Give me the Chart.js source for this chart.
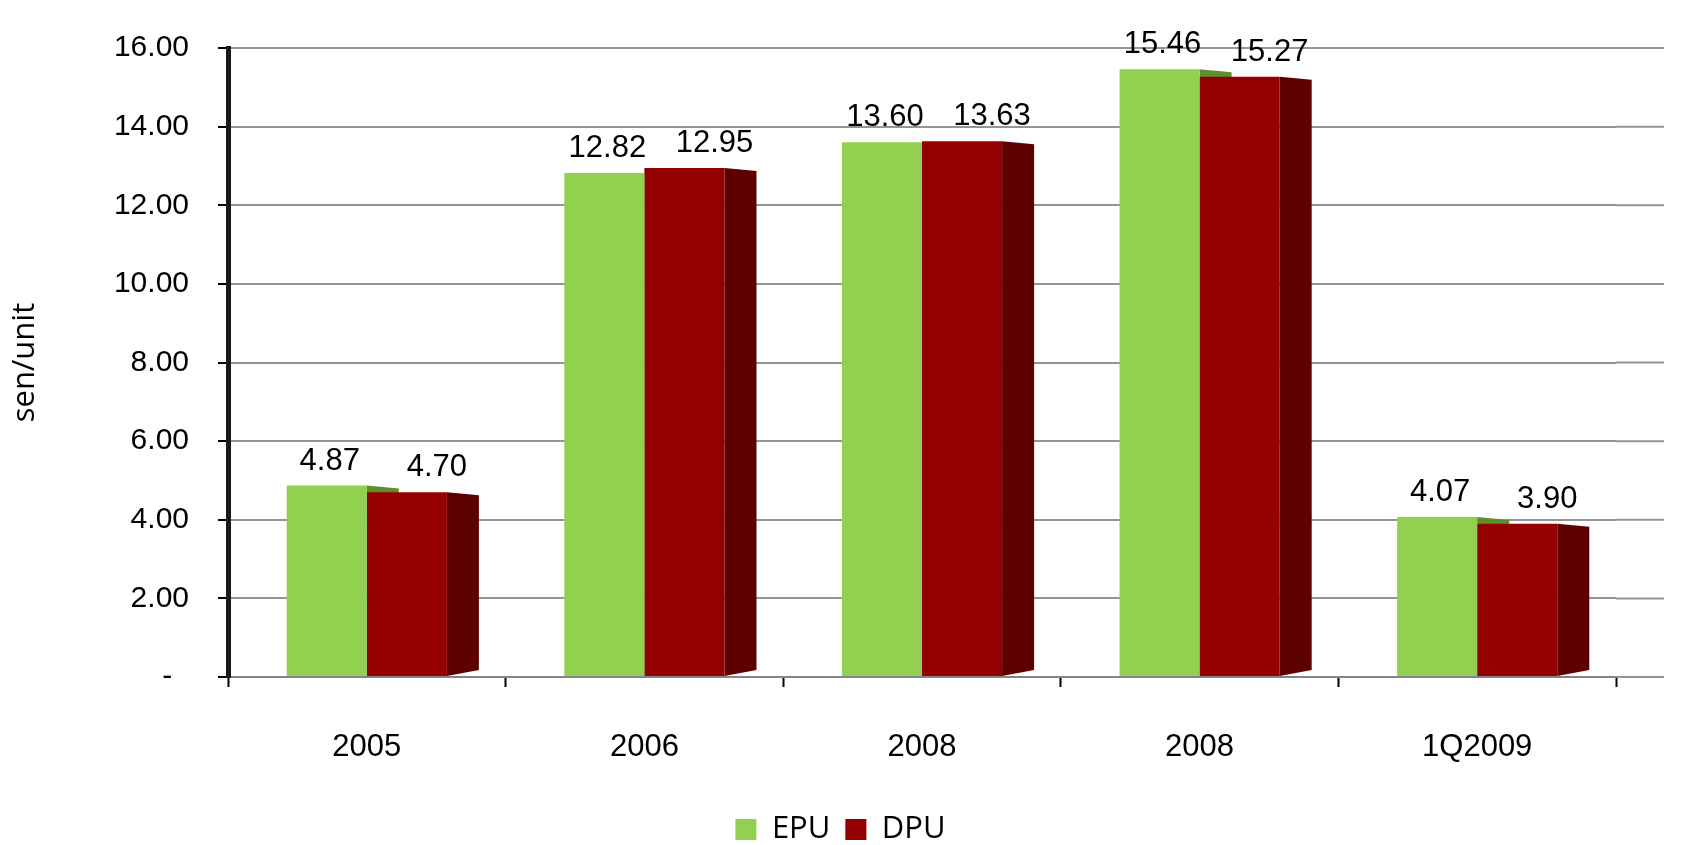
<!DOCTYPE html>
<html>
<head>
<meta charset="utf-8">
<title>EPU / DPU</title>
<script src="https://cdn.jsdelivr.net/npm/chart.js@4"></script>
<style>
  html, body { margin: 0; padding: 0; background: #fff; }
  #wrap { width: 1681px; height: 845px; }
</style>
</head>
<body>
<div id="wrap"><canvas id="unitChart"></canvas></div>
<script>
const periods = ['2005', '2006', '2008', '2008', '1Q2009'];
const epu = [4.87, 12.82, 13.60, 15.46, 4.07];
const dpu = [4.70, 12.95, 13.63, 15.27, 3.90];
const yTicks = [0, 2, 4, 6, 8, 10, 12, 14, 16];

const GREEN = '#92d050';
const RED = '#940000';
const sideColors = ['#5f8f2d', '#5c0000'];
const GRID = 'rgba(130,130,130,0.85)';
const DEPTH = 32;

// fake 3D: right-hand faces, longer grid lines and value labels
const boxSides = {
  id: 'boxSides',
  beforeDatasetsDraw(chart) {
    const ctx = chart.ctx;
    const area = chart.chartArea;
    const y = chart.scales.y;
    ctx.save();
    ctx.strokeStyle = GRID;
    ctx.lineWidth = 2;
    y.ticks.forEach(t => {
      const py = y.getPixelForValue(t.value);
      ctx.beginPath();
      ctx.moveTo(area.right, py);
      ctx.lineTo(area.right + 48, py);
      ctx.stroke();
    });
    sideColors.forEach((col, i) => {
      chart.getDatasetMeta(i).data.forEach(bar => {
        const r = bar.x + bar.width / 2;
        ctx.fillStyle = col;
        ctx.beginPath();
        ctx.moveTo(r, bar.y);
        ctx.lineTo(r + DEPTH, bar.y + 3);
        ctx.lineTo(r + DEPTH, bar.base - 6);
        ctx.lineTo(r, bar.base);
        ctx.closePath();
        ctx.fill();
      });
    });
    ctx.restore();
  },
  afterDatasetsDraw(chart) {
    const ctx = chart.ctx;
    ctx.save();
    ctx.font = '31px "Liberation Sans", Arial, sans-serif';
    ctx.fillStyle = '#000';
    ctx.textAlign = 'center';
    ctx.textBaseline = 'alphabetic';
    chart.data.datasets.forEach((ds, i) => {
      // DPU labels sit over the visible top of the box
      const dx = i === 1 ? DEPTH - 2 : 3;
      chart.getDatasetMeta(i).data.forEach((bar, j) => {
        ctx.fillText(ds.data[j].toFixed(2), bar.x + dx, bar.y - 16);
      });
    });
    ctx.restore();
  }
};

new Chart(document.getElementById('unitChart'), {
  type: 'bar',
  data: {
    labels: periods,
    datasets: [
      { label: 'EPU', data: epu, backgroundColor: GREEN },
      { label: 'DPU', data: dpu, backgroundColor: RED }
    ]
  },
  options: {
    responsive: true,
    maintainAspectRatio: false,
    animation: false,
    layout: { padding: { top: 48, right: 0, left: 0, bottom: -10 } },
    datasets: { bar: { categoryPercentage: 0.577, barPercentage: 1 } },
    plugins: {
      legend: {
        position: 'bottom',
        labels: {
          boxWidth: 21,
          boxHeight: 21,
          padding: 15,
          color: '#000',
          font: { family: '"Open Sans", sans-serif', size: 31 }
        }
      },
      tooltip: { enabled: false }
    },
    scales: {
      x: {
        afterFit: s => { s.height = 122; },
        grid: {
          drawOnChartArea: false,
          drawTicks: true,
          tickLength: 10,
          tickColor: '#000',
          tickWidth: 2
        },
        border: { color: GRID, width: 2 },
        ticks: {
          padding: 42,
          color: '#000',
          font: { family: '"Liberation Sans", Arial, sans-serif', size: 31 }
        }
      },
      y: {
        min: 0,
        max: 16,
        afterFit: s => { s.width = 228; },
        afterBuildTicks: s => { s.ticks = yTicks.map(v => ({ value: v })); },
        grid: {
          color: GRID,
          lineWidth: 2,
          tickColor: '#000',
          tickWidth: 2,
          tickLength: 10
        },
        border: { color: '#1a1a1a', width: 5 },
        ticks: {
          padding: 29,
          color: '#000',
          font: { family: '"Liberation Sans", Arial, sans-serif', size: 30 },
          callback: v => v === 0 ? '-  ' : v.toFixed(2)
        },
        title: {
          display: true,
          text: 'sen/unit',
          color: '#000',
          padding: { top: 7 },
          font: { family: '"Open Sans", sans-serif', size: 31 }
        }
      },
      // empty right-hand strip so the legend stays centred on the page
      spacer: {
        type: 'linear',
        position: 'right',
        afterFit: s => { s.width = 65; },
        grid: { display: false },
        border: { display: false },
        ticks: { display: false }
      }
    }
  },
  plugins: [boxSides]
});
</script>
</body>
</html>
